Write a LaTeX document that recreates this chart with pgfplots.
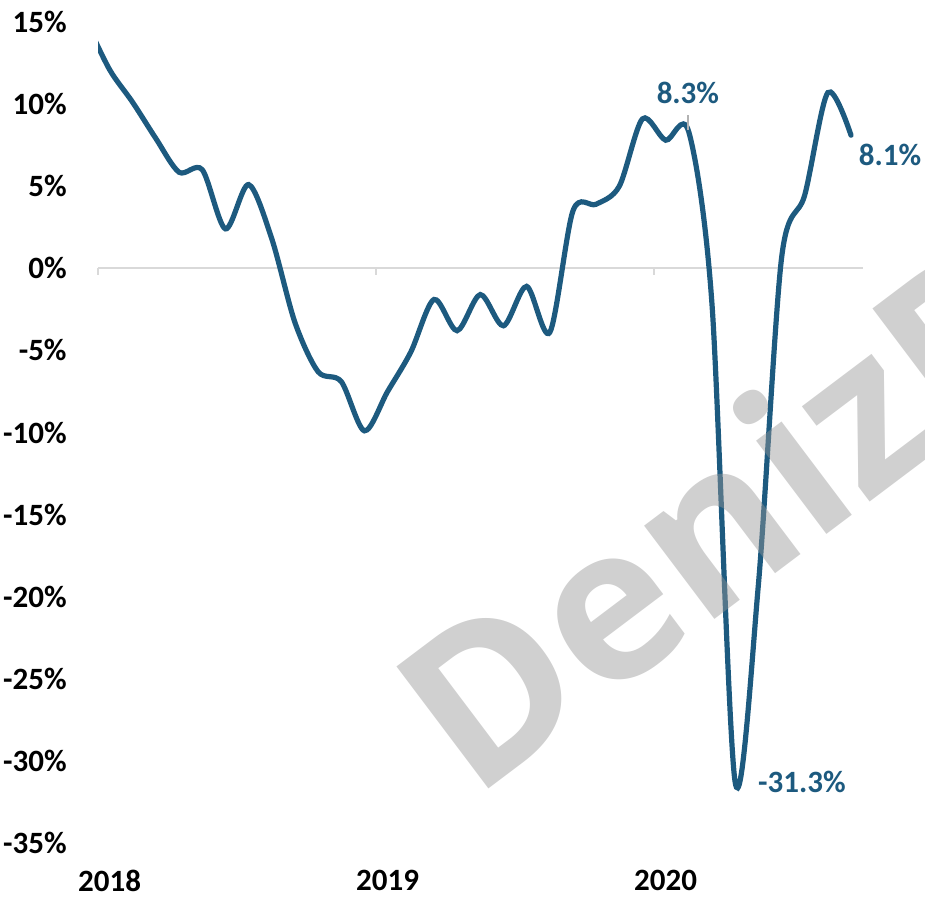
\documentclass[border=0pt]{standalone}
\usepackage{pgfplots}
\pgfplotsset{compat=1.18}
\usepackage{fontspec}
\setmainfont{Carlito}
\newfontfamily\wmfont{Open Sans}
\definecolor{lineblue}{HTML}{1D5A7F}
\definecolor{zeroline}{HTML}{D9D9D9}
\begin{document}
\begin{tikzpicture}
\useasboundingbox (0,0) rectangle (462.5pt,448.5pt);
\begin{axis}[
  at={(49pt,27pt)}, anchor=south west,
  scale only axis, width=382.3pt, height=410.5pt,
  xmin=0, xmax=33, ymin=-35, ymax=15,
  axis line style={draw=none},
  major tick length=0pt,
  xtick={0.5,12.5,24.5}, xticklabels={2018,2019,2020},
  ytick={-35,-30,...,15},
  yticklabels={-35\%,-30\%,-25\%,-20\%,-15\%,-10\%,-5\%,0\%,5\%,10\%,15\%},
  ticklabel style={font=\fontsize{15.5}{18}\selectfont\bfseries, inner sep=0pt},
  yticklabel style={anchor=east, xshift=-15.5pt},
  xticklabel style={anchor=north, yshift=-13.5pt},
  clip mode=individual,
]
\draw[zeroline, line width=1pt] (axis cs:0,0) -- (axis cs:33,0);
\draw[zeroline, line width=1pt] (axis cs:0,0) -- ([yshift=-3.5pt]axis cs:0,0);
\draw[zeroline, line width=1pt] (axis cs:12,0) -- ([yshift=-3.5pt]axis cs:12,0);
\draw[zeroline, line width=1pt] (axis cs:24,0) -- ([yshift=-3.5pt]axis cs:24,0);
\addplot[lineblue, line width=2.6pt, line cap=round, smooth, no marks] coordinates {
(-0.5,15.0) (0.5,12.1) (1.5,10.1) (2.5,7.9) (3.5,5.85) (4.5,6.0) (5.5,2.4) (6.5,5.1)
(7.5,1.8) (8.5,-3.3) (9.5,-6.3) (10.5,-6.9) (11.5,-9.9) (12.5,-7.5) (13.5,-5.1)
(14.5,-1.9) (15.5,-3.8) (16.5,-1.6) (17.5,-3.5) (18.5,-1.1) (19.5,-3.9) (20.5,3.5)
(21.5,3.9) (22.5,5.0) (23.5,9.1) (24.5,7.8) (25.5,8.3) (26.5,-2.2) (27.5,-31.3)
(28.5,-19.3) (29.5,0.6) (30.5,4.45) (31.5,10.7) (32.5,8.1)
};
\draw[gray!60, line width=0.6pt] (axis cs:25.46,9.32) -- (axis cs:25.46,8.40);
\node[text=lineblue, font=\fontsize{15.5}{18}\selectfont\bfseries] at (axis cs:25.46,10.66) {8.3\%};
\node[text=lineblue, font=\fontsize{15.5}{18}\selectfont\bfseries] at (axis cs:34.18,6.88) {8.1\%};
\node[text=lineblue, font=\fontsize{15.5}{18}\selectfont\bfseries] at (axis cs:30.38,-31.3) {-31.3\%};
\end{axis}
\node[rotate=37, anchor=base west, text=black!41, opacity=0.45, inner sep=0pt]
  at (236.8pt,48.1pt) {\wmfont\bfseries\fontsize{107}{110}\selectfont DenizBank};
\end{tikzpicture}
\end{document}
